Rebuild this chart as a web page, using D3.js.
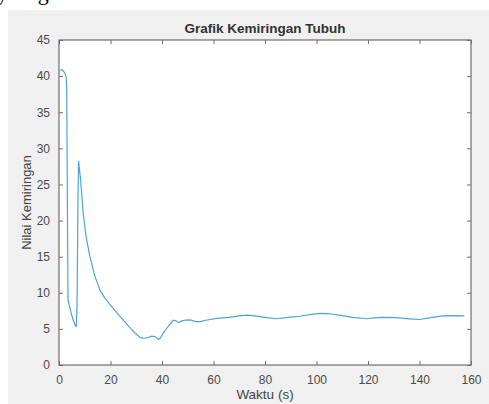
<!DOCTYPE html>
<html>
<head>
<meta charset="utf-8">
<script src="https://cdn.jsdelivr.net/npm/d3@7/dist/d3.min.js"></script>
<style>
  html, body { margin: 0; padding: 0; background: #ffffff; }
  svg { display: block; }
</style>
</head>
<body>
<svg id="chart" width="489" height="404"></svg>
<script>
// Body tilt over time
const waktu = [0.5, 1.5, 2.3, 2.8, 3.0, 3.3, 3.5, 4.5, 5.5, 6.3, 6.7, 7.0, 7.2, 7.4, 7.6,
  8.4, 9.4, 10.5, 12, 14, 16, 18, 20, 23, 26, 29, 31.5, 33, 34.5, 36, 37.5, 38.6, 39.3,
  40.5, 42.5, 44.4, 45.5, 46.5, 47.5, 48.9, 51, 53, 54.8, 57, 61.2, 66, 70, 72.9, 76,
  80, 84.5, 89, 93.6, 98, 101.4, 105, 109, 114, 119.5, 123, 126, 131, 136, 140, 145,
  149, 153, 157.4];
const kemiringan = [40.9, 40.8, 40.4, 39.8, 38.0, 20.0, 9.0, 7.5, 6.2, 5.5, 5.3, 8.0,
  16.0, 24.0, 28.2, 25.6, 21.0, 17.8, 15.0, 12.2, 10.3, 9.2, 8.3, 7.0, 5.8, 4.6, 3.8,
  3.7, 3.8, 4.0, 3.9, 3.55, 3.7, 4.4, 5.4, 6.2, 6.1, 5.85, 6.1, 6.2, 6.25, 6.0, 6.0,
  6.2, 6.45, 6.6, 6.8, 6.9, 6.8, 6.6, 6.4, 6.6, 6.75, 7.0, 7.15, 7.1, 6.9, 6.6, 6.4,
  6.55, 6.6, 6.55, 6.4, 6.3, 6.6, 6.8, 6.85, 6.8];
const xTicks = [0, 20, 40, 60, 80, 100, 120, 140, 160];
const yTicks = [0, 5, 10, 15, 20, 25, 30, 35, 40, 45];
const judul = "Grafik Kemiringan Tubuh";
const labelX = "Waktu (s)";
const labelY = "Nilai Kemiringan";

const svg = d3.select("#chart");
const W = 489, H = 404;
const m = { left: 59, right: 471, top: 40, bottom: 365 };

// word fragment from the surrounding page text
svg.append("text").attr("x", -3).attr("y", 0)
  .attr("font-family", "Liberation Serif, serif").attr("font-size", 22)
  .attr("letter-spacing", 3)
  .attr("fill", "#000").text("yang");

// figure background
svg.append("rect").attr("x", 8).attr("y", 10).attr("width", W - 8).attr("height", H - 10)
  .attr("fill", "#f0f0f0");

const x = d3.scaleLinear().domain([0, 160]).range([m.left, m.right]);
const y = d3.scaleLinear().domain([0, 45]).range([m.bottom, m.top]);

// plot area
svg.append("rect").attr("x", m.left).attr("y", m.top)
  .attr("width", m.right - m.left).attr("height", m.bottom - m.top)
  .attr("fill", "#ffffff");

const axisColor = "#6e6e6e";
const tickLen = 4;
const font = "Liberation Sans, Arial, Helvetica, sans-serif";

function styleAxis(g) {
  g.select(".domain").remove();
  g.selectAll(".tick line").attr("stroke", axisColor).attr("stroke-width", 1);
  g.selectAll(".tick text").attr("fill", "#4a4a4a")
    .attr("font-family", font).attr("font-size", 12);
}

// bottom axis with labels, ticks pointing inward
svg.append("g").attr("transform", `translate(0,${m.bottom})`)
  .call(d3.axisBottom(x).tickValues(xTicks).tickSizeInner(-tickLen).tickSizeOuter(0)
    .tickPadding(10).tickFormat(d3.format("d")))
  .call(styleAxis);
// top axis, ticks only
svg.append("g").attr("transform", `translate(0,${m.top})`)
  .call(d3.axisTop(x).tickValues(xTicks).tickSizeInner(-tickLen).tickSizeOuter(0).tickFormat(""))
  .call(styleAxis);
// left axis with labels
svg.append("g").attr("transform", `translate(${m.left},0)`)
  .call(d3.axisLeft(y).tickValues(yTicks).tickSizeInner(-tickLen).tickSizeOuter(0)
    .tickPadding(9).tickFormat(d3.format("d")))
  .call(styleAxis);
// right axis, ticks only
svg.append("g").attr("transform", `translate(${m.right},0)`)
  .call(d3.axisRight(y).tickValues(yTicks).tickSizeInner(-tickLen).tickSizeOuter(0).tickFormat(""))
  .call(styleAxis);

// box outline
svg.append("rect").attr("x", m.left).attr("y", m.top)
  .attr("width", m.right - m.left).attr("height", m.bottom - m.top)
  .attr("fill", "none").attr("stroke", axisColor).attr("stroke-width", 1.2);

// data line
const pts = waktu.map((t, i) => [t, kemiringan[i]]);
svg.append("path").datum(pts)
  .attr("fill", "none").attr("stroke", "#4ea3dc").attr("stroke-width", 1.2)
  .attr("stroke-linejoin", "round")
  .attr("d", d3.line().x(d => x(d[0])).y(d => y(d[1])));

// title and axis labels
svg.append("text").attr("x", (m.left + m.right) / 2).attr("y", 33)
  .attr("text-anchor", "middle").attr("font-family", font).attr("font-size", 13.5)
  .attr("font-weight", "bold").attr("fill", "#333").text(judul);
svg.append("text").attr("x", (m.left + m.right) / 2).attr("y", 399)
  .attr("text-anchor", "middle").attr("font-family", font).attr("font-size", 13.5)
  .attr("fill", "#444").text(labelX);
svg.append("text")
  .attr("transform", `translate(31,${(m.top + m.bottom) / 2}) rotate(-90)`)
  .attr("text-anchor", "middle").attr("font-family", font).attr("font-size", 13)
  .attr("fill", "#444").text(labelY);
</script>
</body>
</html>
